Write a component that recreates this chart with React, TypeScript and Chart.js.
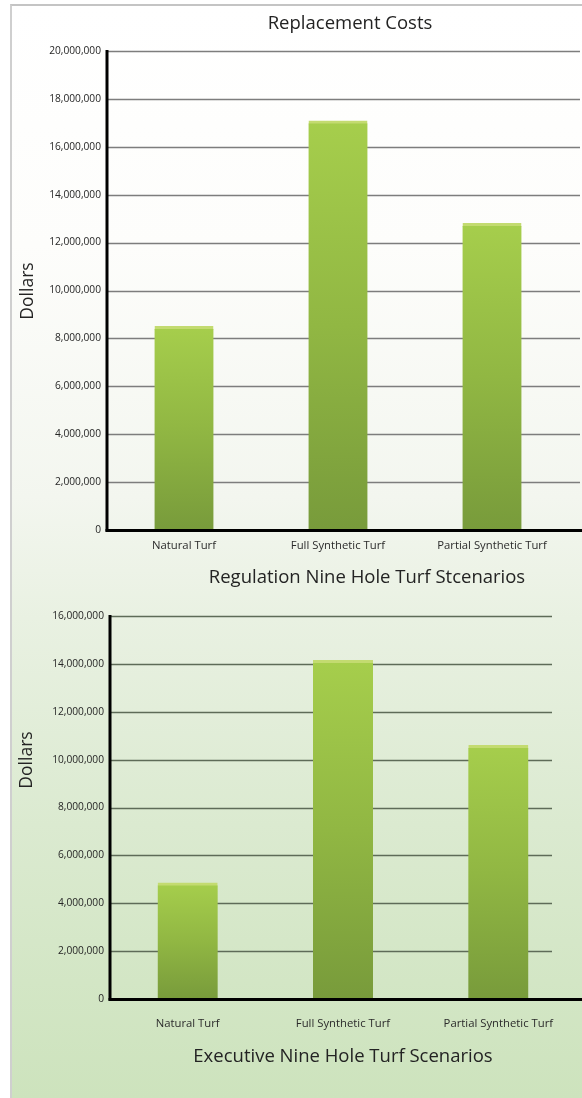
import React, { useEffect, useRef } from "react";
import { Chart, registerables } from "chart.js";

Chart.register(...registerables);

// Turf scenarios shared by both charts
const categories = ["Natural Turf", "Full Synthetic Turf", "Partial Synthetic Turf"];

// Replacement costs in dollars
const regulationCosts = [8500000, 17080000, 12800000];
const executiveCosts = [4850000, 14150000, 10600000];

// Value axis ticks
const regulationTicks = [0, 2000000, 4000000, 6000000, 8000000, 10000000, 12000000, 14000000, 16000000, 18000000, 20000000];
const executiveTicks = [0, 2000000, 4000000, 6000000, 8000000, 10000000, 12000000, 14000000, 16000000];

const FONT = '"Open Sans", "DejaVu Sans", sans-serif';

type Caption = { text: string; x: number; y: number; size: number; rotate?: boolean };

// Draws grid lines, heavy axis lines and free-standing captions
const framePlugin = {
  id: "frame",
  beforeDatasetsDraw(chart: any, _args: any, opts: any) {
    const { ctx, chartArea, scales } = chart;
    const y = scales.y;
    ctx.save();
    ctx.strokeStyle = opts.gridColor;
    ctx.lineWidth = opts.gridWidth;
    for (const t of y.ticks) {
      if (t.value === 0) continue;
      const py = Math.round(y.getPixelForValue(t.value)) + 0.5;
      ctx.beginPath();
      ctx.moveTo(chartArea.left, py);
      ctx.lineTo(opts.gridEnd, py);
      ctx.stroke();
    }
    ctx.restore();
  },
  afterDatasetsDraw(chart: any, _args: any, opts: any) {
    const { ctx, chartArea } = chart;
    ctx.save();
    ctx.fillStyle = "#000";
    ctx.fillRect(chartArea.left - 1.5, chartArea.top - 1, 3, chartArea.bottom - chartArea.top + 2.5);
    ctx.fillRect(chartArea.left - 1.5, chartArea.bottom - 1, opts.axisEnd - chartArea.left + 1.5, 3);
    ctx.restore();
  },
  afterDraw(chart: any, _args: any, opts: any) {
    const ctx = chart.ctx;
    ctx.save();
    ctx.fillStyle = "#232323";
    ctx.textAlign = "center";
    ctx.textBaseline = "middle";
    for (const c of (opts.captions || []) as Caption[]) {
      ctx.save();
      ctx.font = `${c.size}px ${FONT}`;
      ctx.translate(c.x, c.y);
      if (c.rotate) ctx.rotate(-Math.PI / 2);
      ctx.fillText(c.text, 0, 0);
      ctx.restore();
    }
    ctx.restore();
  },
};

function barFill(ctx: any) {
  const chart = ctx.chart;
  const area = chart.chartArea;
  if (!area || ctx.type !== "data") return "#93bb45";
  const top = chart.scales.y.getPixelForValue(ctx.parsed.y);
  const g = chart.ctx.createLinearGradient(0, top, 0, area.bottom);
  g.addColorStop(0, "#a6ce4c");
  g.addColorStop(0.5, "#91b743");
  g.addColorStop(1, "#789b3b");
  return g;
}

type PanelProps = {
  width: number;
  height: number;
  values: number[];
  ticks: number[];
  padding: { top: number; right: number; left: number; bottom: number };
  yAxisWidth: number;
  xAxisHeight: number;
  labelPadding: number;
  barThickness: number;
  gridEnd: number;
  gridColor: string;
  captions: Caption[];
};

function BarPanel(p: PanelProps) {
  const ref = useRef<HTMLCanvasElement | null>(null);

  useEffect(() => {
    if (!ref.current) return;
    const chart = new Chart(ref.current, {
      type: "bar",
      data: {
        labels: categories,
        datasets: [
          {
            data: p.values,
            backgroundColor: barFill,
            borderColor: "#c3db70",
            borderWidth: { top: 3, left: 0, right: 0, bottom: 0 },
            borderSkipped: false,
            barThickness: p.barThickness,
          },
        ],
      },
      options: {
        animation: false,
        responsive: false,
        maintainAspectRatio: false,
        layout: { padding: p.padding },
        plugins: {
          legend: { display: false },
          tooltip: { enabled: false },
          title: { display: false },
          frame: {
            gridEnd: p.gridEnd,
            gridColor: p.gridColor,
            gridWidth: 1.3,
            axisEnd: p.width,
            captions: p.captions,
          },
        } as any,
        scales: {
          x: {
            type: "category",
            grid: { display: false, drawTicks: false },
            border: { display: false },
            ticks: {
              font: { family: FONT, size: 11.3 },
              color: "#2b2b2b",
              padding: p.labelPadding,
              maxRotation: 0,
              autoSkip: false,
            },
            afterFit: (s: any) => {
              s.height = p.xAxisHeight;
            },
          },
          y: {
            min: 0,
            max: p.ticks[p.ticks.length - 1],
            grid: { display: false, drawTicks: false },
            border: { display: false },
            ticks: {
              font: { family: FONT, size: 10.2 },
              color: "#262626",
              padding: 6,
              callback: (v: any) => Number(v).toLocaleString("en-US"),
            },
            afterBuildTicks: (s: any) => {
              s.ticks = p.ticks.map((v) => ({ value: v }));
            },
            afterFit: (s: any) => {
              s.width = p.yAxisWidth;
            },
          },
        },
      },
      plugins: [framePlugin],
    });
    return () => chart.destroy();
  }, []);

  return <canvas ref={ref} width={p.width} height={p.height} style={{ display: "block" }} />;
}

export default function App() {
  return (
    <div style={{ position: "absolute", left: 0, top: 0, width: 582, height: 1098, background: "#fff", overflow: "hidden" }}>
      <div
        style={{
          position: "absolute",
          left: 10,
          top: 4,
          width: 572,
          height: 1094,
          borderTop: "2px solid #c4c4c4",
          borderLeft: "2px solid #cfcfcf",
          boxSizing: "border-box",
          background: "linear-gradient(to bottom, #ffffff 0%, #fdfdfb 22%, #f3f6ef 45%, #e9f1e2 56%, #dbead0 75%, #cde3bd 100%)",
        }}
      />
      <div style={{ position: "absolute", left: 0, top: 0 }}>
        <BarPanel
          width={582}
          height={600}
          values={regulationCosts}
          ticks={regulationTicks}
          padding={{ top: 51, right: 13, left: 0, bottom: 0 }}
          yAxisWidth={107}
          xAxisHeight={70}
          labelPadding={9}
          barThickness={59}
          gridEnd={580}
          gridColor="#7d7d7d"
          captions={[
            { text: "Replacement Costs", x: 350, y: 24, size: 18.5 },
            { text: "Regulation Nine Hole Turf Stcenarios", x: 367, y: 578, size: 18.5 },
            { text: "Dollars", x: 28, y: 291, size: 17.5, rotate: true },
          ]}
        />
      </div>
      <div style={{ position: "absolute", left: 0, top: 600 }}>
        <BarPanel
          width={582}
          height={498}
          values={executiveCosts}
          ticks={executiveTicks}
          padding={{ top: 16, right: 6, left: 0, bottom: 0 }}
          yAxisWidth={110}
          xAxisHeight={99}
          labelPadding={18}
          barThickness={60}
          gridEnd={552}
          gridColor="#5e6b58"
          captions={[
            { text: "Executive Nine Hole Turf Scenarios", x: 343, y: 457, size: 18.5 },
            { text: "Dollars", x: 27, y: 160, size: 17.5, rotate: true },
          ]}
        />
      </div>
    </div>
  );
}
